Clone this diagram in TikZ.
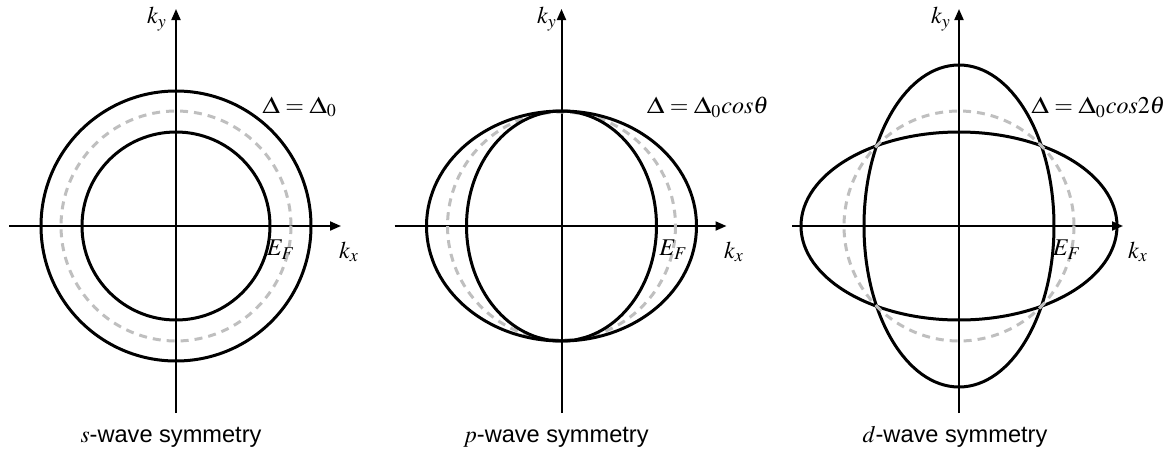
\documentclass[tikz,border=0pt]{standalone}
\usepackage{graphicx}
\usepackage{mathptmx}
\usepackage[no-math]{fontspec}
\setsansfont{Liberation Sans}
\usetikzlibrary{arrows.meta}
\definecolor{ink}{HTML}{000000}
\definecolor{fermigray}{HTML}{BFBFBF}
\newcommand{\wDelta}{\mbox{\scalebox{1.2}[1]{$\Delta$}}}

\begin{document}
\begin{tikzpicture}[x=0.5pt,y=-0.5pt,
  axis/.style={line width=1pt,ink,-{Triangle[length=5.5pt,width=4.5pt]}},
  gap/.style={line width=1.5pt,ink},
  fermi/.style={line width=1.5pt,fermigray,dash pattern=on 4pt off 3pt},
  lbl/.style={inner sep=0pt,font=\fontsize{12}{14}\selectfont},
  gaplbl/.style={inner sep=0pt,anchor=west,font=\fontsize{12}{14}\selectfont},
  title/.style={font=\sffamily\fontsize{11.8}{14}\selectfont,inner sep=0pt}]
  \useasboundingbox (0,0) rectangle (1164,456);
  % s-wave
  \begin{scope}[shift={(176,226)}]
    \coordinate (s0) at (0,0);
    \coordinate (sxl) at (-167,0);
    \coordinate (sxr) at (165,0);
    \coordinate (syb) at (0,187);
    \coordinate (syt) at (0,-217);
    \draw[axis] (sxl) -- (sxr);
    \draw[axis] (syb) -- (syt);
    \draw[gap] (s0) circle [radius=135];
    \draw[gap] (s0) circle [radius=94];
    \draw[fermi] (s0) circle [radius=115];
    \node[lbl] (sky) at (-19,-207) {$k_y$};
    \node[lbl] (skx) at (173,26) {$k_x$};
    \node[lbl] (sef) at (105,24) {$E_F$};
    \node[gaplbl] (sgap) at (86,-119) {$\wDelta=\wDelta_0$};
    \node[title] (stitle) at (-5,211) {$s$-wave symmetry};
  \end{scope}
  % p-wave
  \begin{scope}[shift={(561.5,226)}]
    \coordinate (p0) at (0,0);
    \coordinate (pxl) at (-167,0);
    \coordinate (pxr) at (165,0);
    \coordinate (pyb) at (0,187);
    \coordinate (pyt) at (0,-217);
    \draw[axis] (pxl) -- (pxr);
    \draw[axis] (pyb) -- (pyt);
    \draw[fermi] (p0) circle [radius=114];
    \draw[gap] (p0) ellipse [x radius=135, y radius=115];
    \draw[gap] (p0) ellipse [x radius=95, y radius=115];
    \node[lbl] (pky) at (-14.5,-207) {$k_y$};
    \node[lbl] (pkx) at (172.5,26) {$k_x$};
    \node[lbl] (pef) at (112,24) {$E_F$};
    \node[gaplbl] (pgap) at (85,-119) {$\wDelta=\wDelta_0cos\theta$};
    \node[title] (ptitle) at (-5.5,211) {$p$-wave symmetry};
  \end{scope}
  % d-wave
  \begin{scope}[shift={(959,226)}]
    \coordinate (d0) at (0,0);
    \coordinate (dxl) at (-167,0);
    \coordinate (dxr) at (164,0);
    \coordinate (dyb) at (0,187);
    \coordinate (dyt) at (0,-217);
    \draw[axis] (dxl) -- (dxr);
    \draw[axis] (dyb) -- (dyt);
    \draw[gap] (d0) ellipse [x radius=158, y radius=94];
    \draw[gap] (d0) ellipse [x radius=95, y radius=161];
    \draw[fermi] (d0) circle [radius=115];
    \node[lbl] (dky) at (-18,-207) {$k_y$};
    \node[lbl] (dkx) at (179,26) {$k_x$};
    \node[lbl] (def) at (108,24) {$E_F$};
    \node[gaplbl] (dgap) at (72,-119) {$\wDelta=\wDelta_0cos2\theta$};
    \node[title] (dtitle) at (-4,211) {$d$-wave symmetry};
  \end{scope}
\end{tikzpicture}
\end{document}
